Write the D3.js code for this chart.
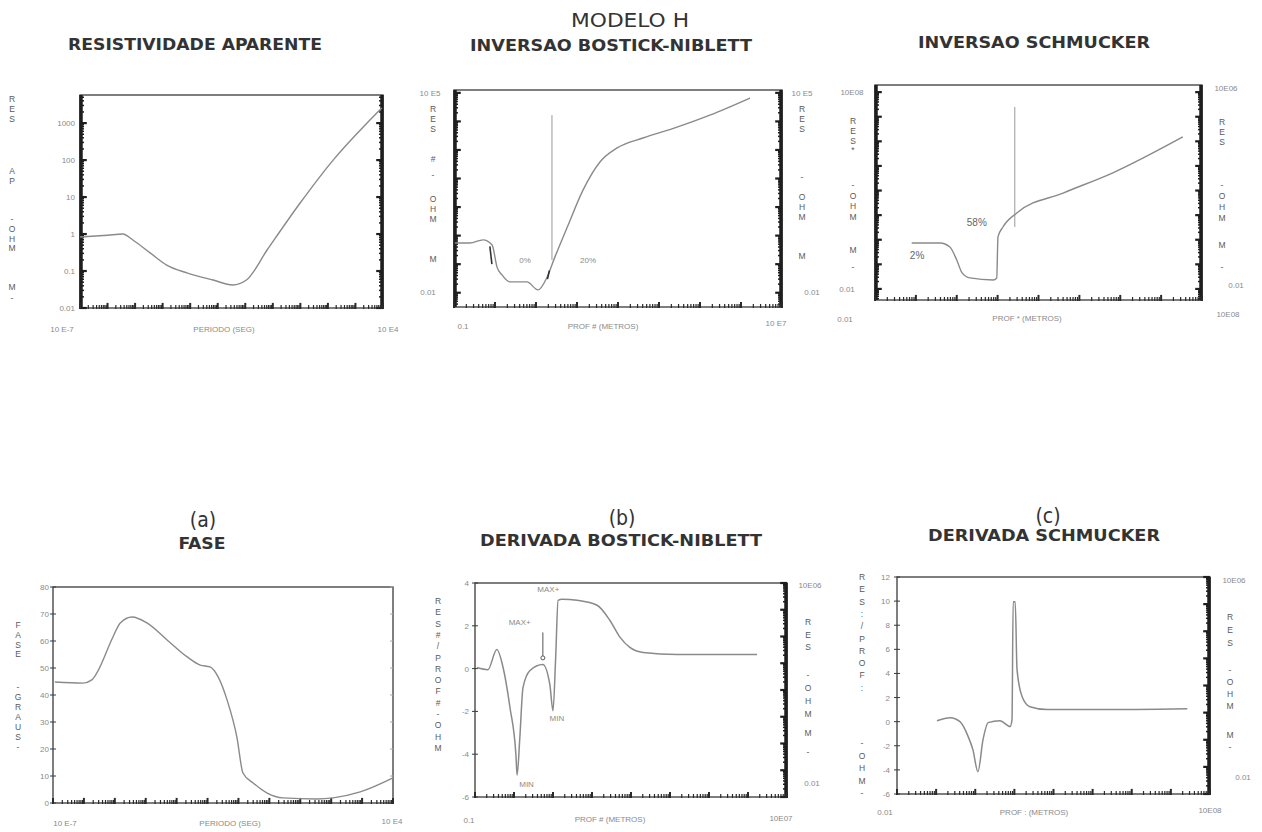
<!DOCTYPE html>
<html lang="pt">
<head>
<meta charset="utf-8" />
<title>MODELO H</title>
<style>
html, body {
	margin: 0;
	background: #fff;
}
svg {
	display: block;
	font-family: "Liberation Sans", Arial, sans-serif;
}
.title {
	font-family: "Liberation Sans Narrow", "DejaVu Sans Condensed", "Liberation Sans", sans-serif;
	font-weight: bold;
	fill: #333;
	text-anchor: middle;
}
.lbl {
	font-size: 8px;
	fill: #8a8a8a;
}
.stack {
	font-size: 8.5px;
	fill: #5a5a5a;
	text-anchor: middle;
}
</style>
</head>
<body>
<svg width="1262" height="832"></svg>

<script src="https://cdn.jsdelivr.net/npm/d3@7/dist/d3.min.js"></script>
<script>
// ---- dados ----
// resistividade aparente x periodo
var rhoPeriod = [1e-7, 1e-6, 3.6e-6, 8.3e-6, 3.5e-5, 1.4e-4, 7.6e-4, 6.8e-3, 3.5e-2, 0.11, 0.62, 9.8, 155, 2630, 9100];
var rhoApp    = [0.83, 0.93, 1.0, 0.69, 0.31, 0.145, 0.089, 0.057, 0.042, 0.057, 0.37, 6.9, 100, 1000, 2570];
var rhoTicks  = [1000, 100, 10, 1, 0.1, 0.01];
var rhoTickLabels = ["1000", "100", "10", "1", "0.1", "0.01"];

// inversao Bostick-Niblett
var bnDepth = [0.105, 0.245, 0.51, 0.85, 1.12, 1.48, 2.3, 6.0, 11.2, 18.6, 29, 58, 141, 363, 955, 4070, 27500, 174000, 1.66e6];
var bnRes   = [0.55, 0.55, 0.71, 0.47, 0.079, 0.042, 0.024, 0.024, 0.0126, 0.035, 0.18, 2.0, 40, 380, 1175, 2630, 6300, 16600, 66000];
var bnMark  = {depth: 24.5, from: 0.14, to: 16600};
var bnNotes = [["0%", 5.4, 0.14], ["20%", 186, 0.14]];

// inversao Schmucker
var schDepth = [0.079, 0.39, 0.68, 1.0, 1.35, 2.1, 7.8, 9.5, 10.2, 13.5, 29.5, 400, 6600, 339000];
var schRes   = [0.74, 0.74, 0.51, 0.15, 0.045, 0.028, 0.023, 0.028, 1.3, 3.3, 12.3, 79, 525, 15100];
var schMark  = {depth: 26.3, from: 3.3, to: 250000};
var schNotes = [["58%", 3.1, 5.3], ["2%", 0.107, 0.24]];

// fase
var phasePeriod = [1.15e-7, 9.3e-7, 1.8e-6, 2.6e-6, 8.7e-6, 1.5e-5, 3.6e-5, 1.1e-4, 4.9e-4, 2.2e-3, 5.8e-3, 1.2e-2, 2.2e-2, 4.3e-2, 8.9e-2, 0.14, 0.30, 0.85, 2.75, 35, 115, 870, 1e4];
var phaseDeg    = [44.8, 44.4, 45.6, 48.1, 61.5, 66.7, 68.9, 66.7, 60.4, 54.1, 51.1, 50.4, 46.7, 38.1, 24.4, 11.1, 7.4, 3.7, 1.9, 1.5, 1.9, 4.1, 9.3];
var phaseTicks  = [80, 70, 60, 50, 40, 30, 20, 10, 0];

// derivada Bostick-Niblett
var dbnDepth = [0.112, 0.214, 0.363, 0.525, 0.79, 1.12, 1.2, 1.41, 1.7, 2.57, 5.5, 8.3, 10, 11.7, 13.5, 17, 41.7, 135, 288, 525, 933, 2040, 15100, 1.7e6];
var dbnVal   = [0.05, -0.05, 0.89, 0.05, -1.83, -4.04, -4.98, -3.24, -0.89, -0.09, 0.19, -0.75, -1.97, 0.5, 3.19, 3.24, 3.19, 2.96, 2.25, 1.46, 0.99, 0.75, 0.66, 0.66];
var dbnTicks = [4, 2, 0, -2, -4, -6];
var dbnNotes = [["MAX+", 7.6, 3.7], ["MAX+", 1.4, 2.16], ["MIN", 12.6, -2.3], ["MIN", 2.1, -5.4]];
var dbnPointer = {depth: 5.5, from: 1.69, to: 0.5};

// derivada Schmucker
var dschDepth = [0.105, 0.229, 0.407, 0.66, 0.87, 1.17, 1.58, 2.14, 4.27, 7.8, 8.7, 9.3, 10.5, 11.7, 15.8, 25, 69, 1320, 263000];
var dschVal   = [0.08, 0.33, 0, -1.24, -2.32, -4.15, -1.49, -0.08, 0.08, -0.41, 0.17, 9.95, 9.95, 4.3, 2.07, 1.24, 1.0, 1.0, 1.08];
var dschTicks = [12, 10, 8, 6, 4, 2, 0, -2, -4, -6];

var svg = d3.select("svg");

var FRAME = "#3a3a3a", CURVE = "#8a8a8a";

// ticks de escala log (1..9 por decada)
function logTicks(scale) {
	var dom = scale.domain();
	var lo = Math.floor(Math.log10(dom[0])), hi = Math.ceil(Math.log10(dom[1]));
	var out = [];
	for (var k = lo; k <= hi; k++) {
		for (var m = 1; m <= 9; m++) {
			var v = m * Math.pow(10, k);
			if (v >= dom[0] && v <= dom[1]) out.push({v: v, major: m === 1});
		}
	}
	return out;
}

// letras empilhadas na vertical
function vstack(x, y, str, step) {
	var t = svg.append("text").attr("class", "stack").attr("y", y);
	var first = true;
	str.split("").forEach(function(c) {
		t.append("tspan").attr("x", x).attr("dy", first ? 0 : step).text(c);
		first = false;
	});
}

function label(x, y, s, anchor) {
	svg.append("text").attr("class", "lbl").attr("x", x).attr("y", y)
		.attr("text-anchor", anchor || "middle").text(s);
}

function frame(x, y) {
	var r = x.range(), q = y.range();
	svg.append("rect")
		.attr("x", r[0]).attr("y", q[1])
		.attr("width", r[1] - r[0]).attr("height", q[0] - q[1])
		.attr("fill", "none").attr("stroke", FRAME).attr("stroke-width", 1.3);
}

// ticks log num lado vertical (faixa escura do original)
function vLogTicks(scale, xpos, dir, len) {
	var g = svg.append("g");
	logTicks(scale).forEach(function(t) {
		g.append("line")
			.attr("x1", xpos).attr("x2", xpos + dir * (t.major ? len * 1.7 : len))
			.attr("y1", scale(t.v)).attr("y2", scale(t.v))
			.attr("stroke", "#1e1e1e").attr("stroke-width", t.major ? 2.2 : 1.5);
	});
	g.append("line").attr("x1", xpos + dir).attr("x2", xpos + dir)
		.attr("y1", scale.range()[0]).attr("y2", scale.range()[1])
		.attr("stroke", "#1e1e1e").attr("stroke-width", 3.5);
}

function hLogTicks(scale, ypos, len) {
	var g = svg.append("g");
	logTicks(scale).forEach(function(t) {
		g.append("line")
			.attr("x1", scale(t.v)).attr("x2", scale(t.v))
			.attr("y1", ypos + 1).attr("y2", ypos - (t.major ? len * 1.7 : len))
			.attr("stroke", "#2a2a2a").attr("stroke-width", t.major ? 2 : 1.2);
	});
}

function linTicks(scale, ticks, xl, xr) {
	ticks.forEach(function(v) {
		svg.append("line").attr("x1", xl - 3).attr("x2", xl + 3)
			.attr("y1", scale(v)).attr("y2", scale(v))
			.attr("stroke", FRAME).attr("stroke-width", 1);
		if (xr != null) {
			svg.append("line").attr("x1", xr - 3).attr("x2", xr)
				.attr("y1", scale(v)).attr("y2", scale(v))
				.attr("stroke", "#aaa").attr("stroke-width", 1);
		}
	});
}

function curve(x, y, xs, ys, w) {
	var pts = xs.map(function(d, i) { return [d, ys[i]]; });
	var line = d3.line()
		.x(function(d) { return x(d[0]); })
		.y(function(d) { return y(d[1]); })
		.curve(d3.curveMonotoneX);
	svg.append("path").datum(pts)
		.attr("d", line)
		.attr("fill", "none")
		.attr("stroke", CURVE)
		.attr("stroke-width", w || 1.4);
}

// ---- titulos ----
svg.append("text").attr("class", "title").attr("x", 630).attr("y", 27)
	.style("font-weight", "normal").style("font-size", "20px").attr("textLength", 118)
	.attr("lengthAdjust", "spacingAndGlyphs").text("MODELO H");
[["RESISTIVIDADE APARENTE", 195, 50, 254], ["INVERSAO BOSTICK-NIBLETT", 611, 51, 282], ["INVERSAO SCHMUCKER", 1034, 48, 232],
 ["FASE", 202, 549, 47], ["DERIVADA BOSTICK-NIBLETT", 621, 546, 282], ["DERIVADA SCHMUCKER", 1044, 541, 232]]
	.forEach(function(t) {
		svg.append("text").attr("class", "title").attr("x", t[1]).attr("y", t[2])
			.style("font-size", "15px").attr("textLength", t[3])
			.attr("lengthAdjust", "spacingAndGlyphs").text(t[0]);
	});
[["(a)", 203, 527], ["(b)", 622, 525], ["(c)", 1048, 523]].forEach(function(t) {
	svg.append("text").attr("class", "title").attr("x", t[1]).attr("y", t[2])
		.style("font-weight", "normal").style("font-size", "21px").text(t[0]);
});

// ---- painel 1: resistividade aparente ----
(function() {
	var x = d3.scaleLog().domain([1e-7, 1e4]).range([80, 383]);
	var y = d3.scaleLog().domain([0.01, Math.pow(10, 3.76)]).range([308, 95]);
	frame(x, y);
	vLogTicks(y, 80, 1, 4);
	vLogTicks(y, 383, -1, 4);
	hLogTicks(x, 308, 3);
	curve(x, y, rhoPeriod, rhoApp);
	rhoTicks.forEach(function(v, i) { label(75, y(v) + 3, rhoTickLabels[i], "end"); });
	label(62, 332, "10 E-7");
	label(224, 332, "PERIODO (SEG)");
	label(388, 332, "10 E4");
	vstack(12, 102, "RES", 9.8);
	vstack(12, 174, "AP", 9.8);
	vstack(12, 222, "-OHM", 9.8);
	vstack(12, 290, "M-", 11);
})();

// ---- painel 2: inversao Bostick-Niblett ----
(function() {
	var x = d3.scaleLog().domain([0.1, 1e7]).range([454, 782]);
	var y = d3.scaleLog().domain([Math.pow(10, -2.5), Math.pow(10, 5.1)]).range([307, 90]);
	frame(x, y);
	vLogTicks(y, 454, 1, 4);
	vLogTicks(y, 782, -1, 4);
	hLogTicks(x, 307, 3);
	svg.append("line").attr("x1", x(bnMark.depth)).attr("x2", x(bnMark.depth))
		.attr("y1", y(bnMark.to)).attr("y2", y(bnMark.from))
		.attr("stroke", "#999").attr("stroke-width", 1);
	curve(x, y, bnDepth, bnRes);
	// marcas escuras nas setas
	[[0.75, 0.42, 0.1], [19, 0.03, 0.06]].forEach(function(m) {
		svg.append("line").attr("x1", x(m[0])).attr("x2", x(m[0] * 1.12))
			.attr("y1", y(m[1])).attr("y2", y(m[2]))
			.attr("stroke", "#333").attr("stroke-width", 1.6);
	});
	bnNotes.forEach(function(n) { label(x(n[1]), y(n[2]) + 3, n[0]); });
	label(430, 96, "10 E5");
	label(428, 295, "0.01");
	label(802, 96, "10 E5");
	label(812, 295, "0.01");
	label(463, 329, "0.1");
	label(603, 329, "PROF # (METROS)");
	label(776, 326, "10 E7");
	vstack(433, 112, "RES", 9.8);
	vstack(433, 162, "#", 9);
	vstack(433, 178, "-", 9);
	vstack(433, 202, "OHM", 9.8);
	vstack(433, 262, "M", 9);
	vstack(802, 112, "RES", 9.8);
	vstack(802, 180, "-", 9);
	vstack(802, 200, "OHM", 9.8);
	vstack(802, 259, "M", 9);
})();

// ---- painel 3: inversao Schmucker ----
(function() {
	var x = d3.scaleLog().domain([0.01, 1e6]).range([875, 1202]);
	var y = d3.scaleLog().domain([Math.pow(10, -2.45), Math.pow(10, 6.29)]).range([300, 85]);
	frame(x, y);
	vLogTicks(y, 875, 1, 4);
	vLogTicks(y, 1202, -1, 4);
	hLogTicks(x, 300, 3);
	svg.append("line").attr("x1", x(schMark.depth)).attr("x2", x(schMark.depth))
		.attr("y1", y(schMark.to)).attr("y2", y(schMark.from))
		.attr("stroke", "#999").attr("stroke-width", 1);
	curve(x, y, schDepth, schRes);
	schNotes.forEach(function(n) {
		svg.append("text").attr("x", x(n[1])).attr("y", y(n[2]) + 4)
			.attr("text-anchor", "middle").style("font-size", "10px").style("fill", "#666").text(n[0]);
	});
	label(852, 95, "10E08");
	label(847, 292, "0.01");
	label(1226, 91, "10E06");
	label(1236, 288, "0.01");
	label(845, 322, "0.01");
	label(1027, 321, "PROF * (METROS)");
	label(1228, 317, "10E08");
	vstack(853, 124, "RES*", 9.8);
	vstack(853, 188, "-OHM", 10.5);
	vstack(853, 253, "M", 9);
	vstack(853, 270, "-", 9);
	vstack(1222, 125, "RES", 9.8);
	vstack(1222, 188, "-OHM", 11);
	vstack(1222, 248, "M", 9);
	vstack(1222, 270, "-", 9);
})();

// ---- painel 4: fase ----
(function() {
	var x = d3.scaleLog().domain([1e-7, 1e4]).range([53, 393]);
	var y = d3.scaleLinear().domain([0, 80]).range([803, 587]);
	frame(x, y);
	linTicks(y, phaseTicks, 53, 393);
	hLogTicks(x, 803, 3);
	curve(x, y, phasePeriod, phaseDeg);
	phaseTicks.forEach(function(v) { label(49, y(v) + 3, String(v), "end"); });
	label(65, 826, "10 E-7");
	label(230, 826, "PERIODO (SEG)");
	label(392, 824, "10 E4");
	vstack(18, 628, "FASE", 9.8);
	vstack(18, 690, "-GRAUS-", 10);
})();

// ---- painel 5: derivada Bostick-Niblett ----
(function() {
	var x = d3.scaleLog().domain([0.1, 1e7]).range([475, 787]);
	var y = d3.scaleLinear().domain([-6, 4]).range([797, 583]);
	var yr = d3.scaleLog().domain([0.01, 1e6]).range([797, 583]);
	frame(x, y);
	linTicks(y, dbnTicks, 475, null);
	vLogTicks(yr, 787, -1, 4);
	hLogTicks(x, 797, 3);
	curve(x, y, dbnDepth, dbnVal, 1.5);
	svg.append("line").attr("x1", x(dbnPointer.depth)).attr("x2", x(dbnPointer.depth))
		.attr("y1", y(dbnPointer.from)).attr("y2", y(dbnPointer.to) - 2)
		.attr("stroke", "#555").attr("stroke-width", 1);
	svg.append("circle").attr("cx", x(dbnPointer.depth)).attr("cy", y(dbnPointer.to))
		.attr("r", 2).attr("fill", "none").attr("stroke", "#555");
	dbnNotes.forEach(function(n) { label(x(n[1]), y(n[2]) + 3, n[0]); });
	dbnTicks.forEach(function(v) { label(469, y(v) + 3, String(v), "end"); });
	label(810, 588, "10E06");
	label(812, 786, "0.01");
	label(469, 823, "0.1");
	label(610, 822, "PROF # (METROS)");
	label(781, 821, "10E07");
	vstack(438, 604, "RES#/PROF#-OHM", 11.3);
	vstack(808, 625, "RES", 12.5);
	vstack(808, 678, "-OHM", 13);
	vstack(808, 736, "M", 9);
	vstack(808, 755, "-", 9);
})();

// ---- painel 6: derivada Schmucker ----
(function() {
	var x = d3.scaleLog().domain([0.01, 1e6]).range([897, 1210]);
	var y = d3.scaleLinear().domain([-6, 12]).range([794, 577]);
	var yr = d3.scaleLog().domain([0.01, 1e6]).range([794, 577]);
	frame(x, y);
	linTicks(y, dschTicks, 897, null);
	vLogTicks(yr, 1210, -1, 4);
	hLogTicks(x, 794, 3);
	curve(x, y, dschDepth, dschVal, 1.5);
	dschTicks.forEach(function(v) { label(890, y(v) + 3, String(v), "end"); });
	label(1234, 583, "10E06");
	label(1243, 780, "0.01");
	label(885, 815, "0.01");
	label(1034, 815, "PROF : (METROS)");
	label(1210, 813, "10E08");
	vstack(862, 580, "RES:/PROF:", 12.3);
	vstack(862, 746, "-OHM-", 12.5);
	vstack(1230, 620, "RES", 13);
	vstack(1230, 673, "-OHM", 12);
	vstack(1230, 738, "M-", 12);
})();
</script>
</body>
</html>
